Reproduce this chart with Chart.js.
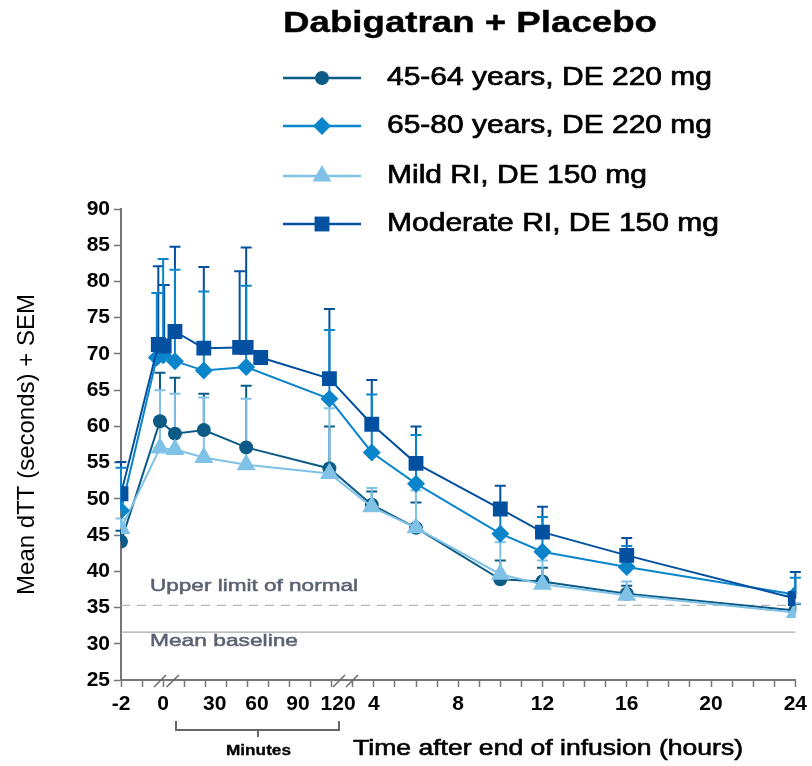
<!DOCTYPE html>
<html>
<head>
<meta charset="utf-8">
<script src="https://cdn.jsdelivr.net/npm/chart.js@4.4.1/dist/chart.umd.min.js"></script>
<style>
body{margin:0;background:#fff}
#wrap{width:812px;height:766px}
</style>
</head>
<body>
<div id="wrap"><canvas id="dttChart" width="812" height="766"></canvas></div>
<script>

// x is in axis units: -2..0 are hours before, then a stretched 0-120 min part, then hours (4 h sits at 10)
const xTickPos=[-2,0,2.45,4.45,6.4,8.3,10,14,18,22,26,30]
const xTickLabels=["-2","0","30","60","90","120","4","8","12","16","20","24"]

const seriesNames=["45-64 years, DE 220 mg","65-80 years, DE 220 mg","Mild RI, DE 150 mg","Moderate RI, DE 150 mg"]
const seriesColors=["#0b5b86","#0a85cb","#80c2e6","#0450a0"]
const seriesStyles=["circle","rectRot","triangle","rect"]
const seriesRadius=[7,9,11,10.5]

// 45-64 years
const xYoung=[-2,-0.15,0.56,1.93,3.94,7.89,9.9,12,16,18,22,30]
const yYoung=[44.1,60.7,59.0,59.5,57.1,54.2,49.2,46.0,38.9,38.6,36.9,34.6]
const semYoung=[1.5,6.7,7.7,5.0,8.5,5.8,1.8,3.5,2.6,1.9,1.1,0.9]

// 65-80 years
const xOld=[-2,-0.3,0.0,0.56,1.93,3.94,7.89,9.9,12,16,18,22,30]
const yOld=[48.4,69.5,69.8,69.0,67.7,68.2,63.8,56.4,52.1,45.2,42.7,40.6,36.8]
const semOld=[5.9,8.9,13.3,12.6,10.9,11.2,9.5,8.0,6.7,3.3,4.8,2.9,2.3]

// mild RI
const xMild=[-2,-0.15,0.56,1.93,3.94,7.89,9.9,12,16,18,22,30]
const yMild=[45.9,57.0,56.8,55.7,54.7,53.5,48.9,46.0,39.6,38.2,36.7,34.3]
const semMild=[1.4,8.0,7.7,8.3,9.1,9.0,2.6,5.2,4.4,3.3,1.9,1.3]

// moderate RI
const xMod=[-2,-0.23,0.05,0.56,1.93,3.63,3.94,4.63,7.89,9.9,12,16,18,22,30]
const yMod=[50.7,71.3,71.1,73.1,70.8,70.9,70.9,69.5,66.6,60.3,54.9,48.6,45.4,42.2,36.25]
const semMod=[4.4,10.8,8.4,11.7,11.2,10.5,13.8,0,9.6,6.1,5.1,3.2,3.5,2.4,3.65]

const upperLimit=35.3
const meanBaseline=31.6

const xs=[xYoung,xOld,xMild,xMod]
const ys=[yYoung,yOld,yMild,yMod]
const sems=[semYoung,semOld,semMild,semMod]

function fitText(ctx,text,x,y,font,width,color,heavy){
ctx.save()
ctx.font=font
ctx.fillStyle=color
ctx.strokeStyle=color
ctx.lineWidth=heavy||0
ctx.textBaseline="middle"
ctx.textAlign="left"
const w=ctx.measureText(text).width
ctx.translate(x,y)
ctx.scale(width/w,1)
ctx.fillText(text,0,0)
if(heavy)ctx.strokeText(text,0,0)
ctx.restore()
}

function drawMarker(ctx,style,x,y,r){
ctx.beginPath()
if(style==="circle"){
ctx.arc(x,y,r,0,Math.PI*2)
}else if(style==="rectRot"){
ctx.moveTo(x,y-r);ctx.lineTo(x+r,y);ctx.lineTo(x,y+r);ctx.lineTo(x-r,y)
}else if(style==="triangle"){
ctx.moveTo(x,y-r);ctx.lineTo(x+r*0.866,y+r/2);ctx.lineTo(x-r*0.866,y+r/2)
}else{
const s=r*Math.SQRT1_2
ctx.rect(x-s,y-s,2*s,2*s)
}
ctx.closePath()
ctx.fill()
}

const extras={
id:"extras",
beforeDatasetsDraw(chart){
const ctx=chart.ctx
const sx=chart.scales.x
const sy=chart.scales.y
const area=chart.chartArea
ctx.save()

// reference lines
ctx.lineWidth=1.2
ctx.strokeStyle="#b5b5b5"
ctx.setLineDash([9,7])
ctx.beginPath()
ctx.moveTo(area.left,sy.getPixelForValue(upperLimit))
ctx.lineTo(area.right,sy.getPixelForValue(upperLimit))
ctx.stroke()
ctx.setLineDash([])
ctx.strokeStyle="#a8a8a8"
ctx.beginPath()
ctx.moveTo(area.left,sy.getPixelForValue(meanBaseline))
ctx.lineTo(area.right,sy.getPixelForValue(meanBaseline))
ctx.stroke()
fitText(ctx,"Upper limit of normal",150,sy.getPixelForValue(upperLimit)-19,"17px 'Liberation Sans'",208,"#5a6171",0.5)
fitText(ctx,"Mean baseline",150,sy.getPixelForValue(meanBaseline)+9,"17px 'Liberation Sans'",148,"#5a6171",0.5)

// +SEM bars
const order=[0,2,3,1]
ctx.lineWidth=2
order.forEach(i=>{
ctx.strokeStyle=seriesColors[i]
xs[i].forEach((xv,j)=>{
if(!sems[i][j])return
const px=sx.getPixelForValue(xv)
const py=sy.getPixelForValue(ys[i][j])
const top=sy.getPixelForValue(ys[i][j]+sems[i][j])
ctx.beginPath()
ctx.moveTo(px,py);ctx.lineTo(px,top)
ctx.moveTo(px-5.5,top);ctx.lineTo(px+5.5,top)
ctx.stroke()
})
})
ctx.restore()
},
afterDraw(chart){
const ctx=chart.ctx
const area=chart.chartArea
ctx.save()

// legend
fitText(ctx,"Dabigatran + Placebo",283,24,"bold 30px 'Liberation Sans'",374,"#000",0.4)
const rowY=[78,126,176,224]
const widths=[325,325,260,332]
seriesNames.forEach((name,i)=>{
ctx.strokeStyle=seriesColors[i]
ctx.fillStyle=seriesColors[i]
ctx.lineWidth=2.5
ctx.beginPath()
ctx.moveTo(283,rowY[i]);ctx.lineTo(361,rowY[i])
ctx.stroke()
drawMarker(ctx,seriesStyles[i],322,rowY[i],seriesRadius[i])
fitText(ctx,name,387,rowY[i],"26px 'Liberation Sans'",widths[i],"#000",0.7)
})

// axis breaks
ctx.strokeStyle="#666"
ctx.lineWidth=1.5
;[[154,166],[166.5,179],[333,345],[346,358]].forEach(b=>{
ctx.beginPath()
ctx.moveTo(b[0],area.bottom+7);ctx.lineTo(b[1],area.bottom-5)
ctx.stroke()
})

// minutes bracket
ctx.lineWidth=2
ctx.strokeStyle="#666"
ctx.beginPath()
ctx.moveTo(176,721);ctx.lineTo(176,730);ctx.lineTo(339,730);ctx.lineTo(339,721)
ctx.moveTo(258,730);ctx.lineTo(258,737)
ctx.stroke()
fitText(ctx,"Minutes",226,751,"bold 14px 'Liberation Sans'",65,"#000",0.3)
fitText(ctx,"Time after end of infusion (hours)",353,749,"22px 'Liberation Sans'",390,"#000",0.6)
ctx.restore()
}
}

const datasets=seriesNames.map((name,i)=>({
label:name,
data:xs[i].map((xv,j)=>({x:xv,y:ys[i][j]})),
showLine:true,
borderColor:seriesColors[i],
backgroundColor:seriesColors[i],
borderWidth:2,
pointStyle:seriesStyles[i],
pointRadius:seriesRadius[i],
pointBackgroundColor:seriesColors[i],
pointBorderColor:seriesColors[i],
pointBorderWidth:0,
order:[3,1,2,0][i]
}))

const tickList=[]
for(let v=-2;v<=30;v++)tickList.push(v)
xTickPos.forEach(v=>{if(!Number.isInteger(v))tickList.push(v)})
tickList.sort((a,b)=>a-b)

const tickFont={family:"'Liberation Sans'",size:21,weight:"bold"}

new Chart(document.getElementById("dttChart"),{
type:"scatter",
data:{datasets:datasets},
options:{
responsive:false,
animation:false,
layout:{padding:{top:209,right:14,left:0,bottom:0}},
plugins:{legend:{display:false},tooltip:{enabled:false}},
scales:{
x:{
type:"linear",
min:-2,
max:30,
afterBuildTicks(scale){scale.ticks=tickList.map(v=>({value:v}))},
afterFit(scale){scale.height=86},
grid:{display:true,drawOnChartArea:false,drawTicks:true,tickLength:7,tickWidth:1.5,
tickColor:c=>(c.tick&&Number.isInteger(c.tick.value))?"#777":"rgba(0,0,0,0)"},
border:{display:true,color:"#777",width:2},
ticks:{
autoSkip:false,maxRotation:0,padding:5,color:"#000",font:tickFont,
callback:v=>{const k=xTickPos.indexOf(v);return k<0?"":xTickLabels[k]}
}
},
y:{
min:25,
max:90,
afterFit(scale){scale.width=121},
grid:{display:true,drawOnChartArea:false,drawTicks:true,tickLength:7,tickWidth:1.5,tickColor:"#777"},
border:{display:true,color:"#777",width:2},
ticks:{stepSize:5,padding:4,color:"#000",font:tickFont},
title:{display:true,text:"Mean dTT (seconds) + SEM",color:"#000",
font:{family:"'Liberation Sans'",size:24,lineHeight:1.2},padding:{top:13,bottom:0}}
}
}
},
plugins:[extras]
})
</script>
</body>
</html>
